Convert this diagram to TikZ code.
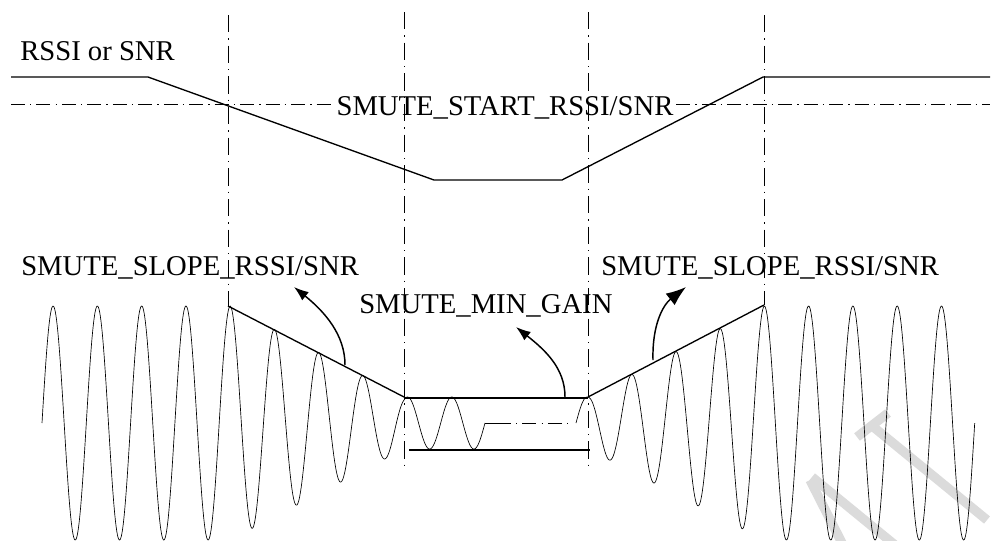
\documentclass[tikz,border=0pt]{standalone}
\usepackage{fontspec}
\setmainfont{Liberation Serif}
\usetikzlibrary{arrows.meta}
\begin{document}
\begin{tikzpicture}[x=0.75pt,y=-0.75pt,
  hdd/.style={line width=0.6pt,dash pattern=on 10.5pt off 3.8pt on 1pt off 3.8pt},
  vdd/.style={line width=0.6pt,dash pattern=on 13pt off 4.5pt on 1pt off 4.5pt},
  boldline/.style={line width=1pt,line join=miter},
  wave/.style={line width=0.5pt},
  lbl/.style={inner sep=0pt,font=\fontsize{21.5}{26}\selectfont},
  arr/.style={line width=1.1pt,-{Latex[length=11pt,width=8pt]}},
  bigarr/.style={line width=1.1pt,-{Latex[length=15pt,width=11pt]}},
  wmark/.style={line width=7pt,draw=black!14}]
\useasboundingbox (0,0) rectangle (991,540);
% watermark
\draw[wmark] (871,425) -- (987,520);
\draw[wmark] (857,437) -- (888,413);
\draw[wmark] (810,480) -- (843,545);
\draw[wmark] (812,477) -- (895,545);
% coordinates
\coordinate (v1t) at (228,15); \coordinate (v1b) at (228,306);
\coordinate (v2t) at (404,12); \coordinate (v2b) at (404,470);
\coordinate (v3t) at (588,12); \coordinate (v3b) at (588,470);
\coordinate (v4t) at (764,15); \coordinate (v4b) at (764,305);
\coordinate (hl) at (11,104); \coordinate (hr) at (990,104);
% labels
\node[lbl,anchor=base west] (rssi) at (20,60) {RSSI or SNR};
\node[lbl,anchor=base] (st) at (505,115) {SMUTE\_START\_RSSI/SNR};
\node[lbl,anchor=base west] (sl1) at (21,275) {SMUTE\_SLOPE\_RSSI/SNR};
\node[lbl,anchor=base west] (sl2) at (601,275) {SMUTE\_SLOPE\_RSSI/SNR};
\node[lbl,anchor=base west] (mg) at (359,313) {SMUTE\_MIN\_GAIN};
% vertical dash-dot lines
\draw[vdd] (v1t) -- (v1b);
\draw[vdd] (v2t) -- (v2b);
\draw[vdd] (v3t) -- (v3b);
\draw[vdd] (v4t) -- (v4b);
% horizontal threshold
\draw[hdd] (hl) -- ([xshift=-2pt]hl -| st.west);
\draw[hdd] ([xshift=2pt]hr -| st.east) -- (hr);
% RSSI curve
\draw[boldline] (11,77) -- (148,77) -- (434,180) -- (562,180) -- (763,77) -- (990,77);
% envelope lines
\coordinate (e1) at (228,306); \coordinate (e2) at (404,397);
\coordinate (e3) at (588,397); \coordinate (e4) at (764,305);
\draw[boldline] (e1) -- (e2);
\draw[boldline] (e3) -- (e4);
\draw[boldline] (404,398) -- (588,398);
\draw[boldline] (409,450) -- (590,450);
% waves
\draw[wave] plot[domain=42:485,samples=700] (\x,{423-(26+91*max(0,min(1,(404-\x)/174)))*sin((\x-42)*8.12641)});
\draw[wave] plot[domain=576:974.7,samples=650] (\x,{423-(26+91*max(0,min(1,(\x-588)/176)))*sin((\x-576)*8.12641)});
\coordinate (m1) at (485,423); \coordinate (m2) at (497,423); \coordinate (m3) at (570,423);
\draw[wave] (m1) -- (m2);
\draw[hdd,line width=0.5pt] (m2) -- (m3);
% arrows
\coordinate (a1s) at (345,365); \coordinate (a1t) at (294,287);
\coordinate (a2s) at (565,397); \coordinate (a2t) at (516,327);
\coordinate (a3s) at (653,360); \coordinate (a3t) at (686,287);
\draw[arr] (a1s) .. controls (345,335) and (325,312) .. (a1t);
\draw[arr] (a2s) .. controls (565,368) and (545,350) .. (a2t);
\draw[bigarr] (a3s) .. controls (652,325) and (663,305) .. (a3t);
\end{tikzpicture}
\end{document}
